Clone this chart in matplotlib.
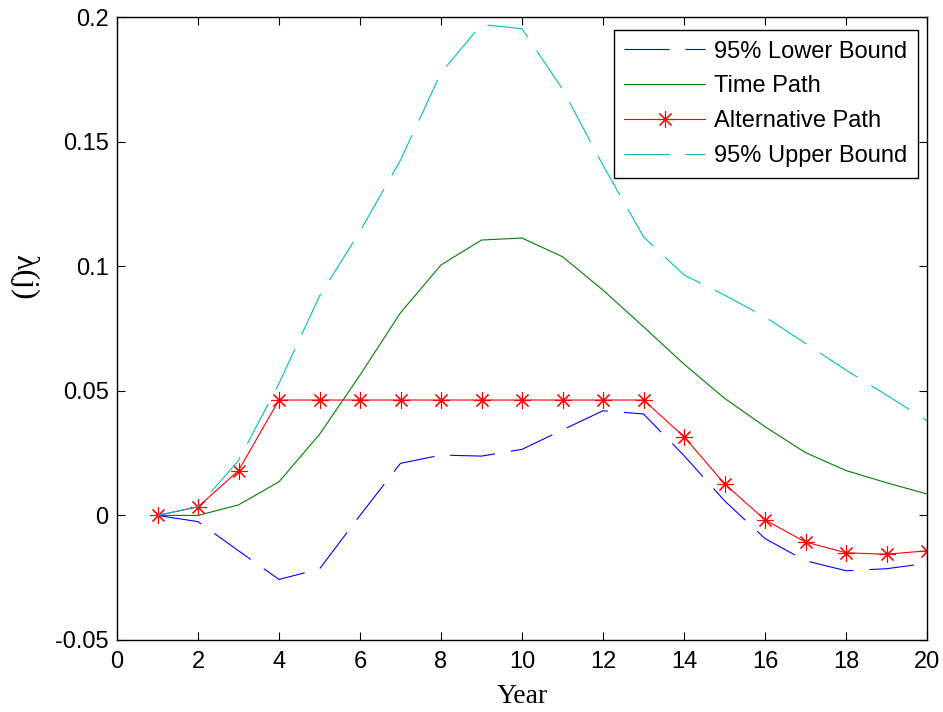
import matplotlib
matplotlib.use("Agg")
import matplotlib.pyplot as plt
from matplotlib.ticker import FixedLocator, FixedFormatter

years = list(range(1, 21))
lower_bound = [0, -0.0025, -0.0142, -0.0257, -0.0215, 0.0, 0.0209, 0.0242, 0.0238, 0.0265,
               0.0343, 0.042, 0.0407, 0.024, 0.0059, -0.0093, -0.0182, -0.0222, -0.0214, -0.0192]
time_path = [0, 0, 0.0042, 0.0135, 0.0325, 0.0563, 0.0813, 0.1005, 0.1105, 0.1113,
             0.1038, 0.0904, 0.0757, 0.0607, 0.047, 0.0356, 0.0252, 0.018, 0.0131, 0.0086]
alt_path = [0, 0.0034, 0.018, 0.0463, 0.0463, 0.0463, 0.0463, 0.0463, 0.0463, 0.0463,
            0.0463, 0.0463, 0.0463, 0.0316, 0.0127, -0.0018, -0.0107, -0.015, -0.0156, -0.0142]
upper_bound = [0, 0.0035, 0.022, 0.053, 0.088, 0.114, 0.1426, 0.1776, 0.197, 0.1953,
               0.171, 0.1405, 0.1118, 0.0965, 0.0884, 0.0797, 0.069, 0.0583, 0.0483, 0.038]

labels = ["95% Lower Bound", "Time Path", "Alternative Path", "95% Upper Bound"]
xticks = list(range(0, 21, 2))
yticks = [-0.05, 0, 0.05, 0.1, 0.15, 0.2]
yticklabels = ["-0.05", "0", "0.05", "0.1", "0.15", "0.2"]

plt.rcParams['font.family'] = ['Liberation Sans', 'DejaVu Sans']

W, H = 943, 712
fig = plt.figure(figsize=(W / 100, H / 100), dpi=100)
ax = fig.add_axes([117 / W, (H - 640) / H, (927 - 117) / W, (640 - 17) / H])

lw = 0.8
dash = (40.5, 14.4)
ax.plot(years, lower_bound, color=(0, 0, 1), lw=lw, dashes=dash, label=labels[0])
ax.plot(years, time_path, color=(0, 0.5, 0), lw=lw, label=labels[1])
ax.plot(years, alt_path, color=(1, 0, 0), lw=lw, marker=(8, 2, 0), ms=12, mew=0.8,
        label=labels[2])
ax.plot(years, upper_bound, color=(0, 0.75, 0.75), lw=lw, dashes=dash, label=labels[3])

ax.set_xlim(0, 20)
ax.set_ylim(-0.05, 0.2)
ax.xaxis.set_major_locator(FixedLocator(xticks))
ax.set_xticklabels([str(t) for t in xticks])
ax.yaxis.set_major_locator(FixedLocator(yticks))
ax.yaxis.set_major_formatter(FixedFormatter(yticklabels))
ax.tick_params(direction='in', length=6, width=0.8, labelsize=17, top=True, right=True,
               colors='black')
ax.tick_params(axis='x', pad=8)
ax.tick_params(axis='y', pad=6)
for s in ax.spines.values():
    s.set_linewidth(1.0)

ax.set_xlabel("Year", fontfamily=['Liberation Serif', 'DejaVu Serif'], fontsize=20, labelpad=8)
fig.text(24 / W, (H - 277) / H, "λ(j)", rotation=-90, ha='center', va='center',
         fontfamily=['Liberation Serif', 'DejaVu Serif'], fontsize=23)

leg = ax.legend(loc='upper right', bbox_to_anchor=(918 / W, (H - 30) / H),
                bbox_transform=fig.transFigure, borderaxespad=0, fontsize=17,
                handlelength=3.4, handletextpad=0.4, labelspacing=0.54,
                borderpad=0.45, numpoints=1, fancybox=False, framealpha=1,
                edgecolor='black')
leg.get_frame().set_linewidth(1.0)

fig.savefig("out.png", dpi=100)
